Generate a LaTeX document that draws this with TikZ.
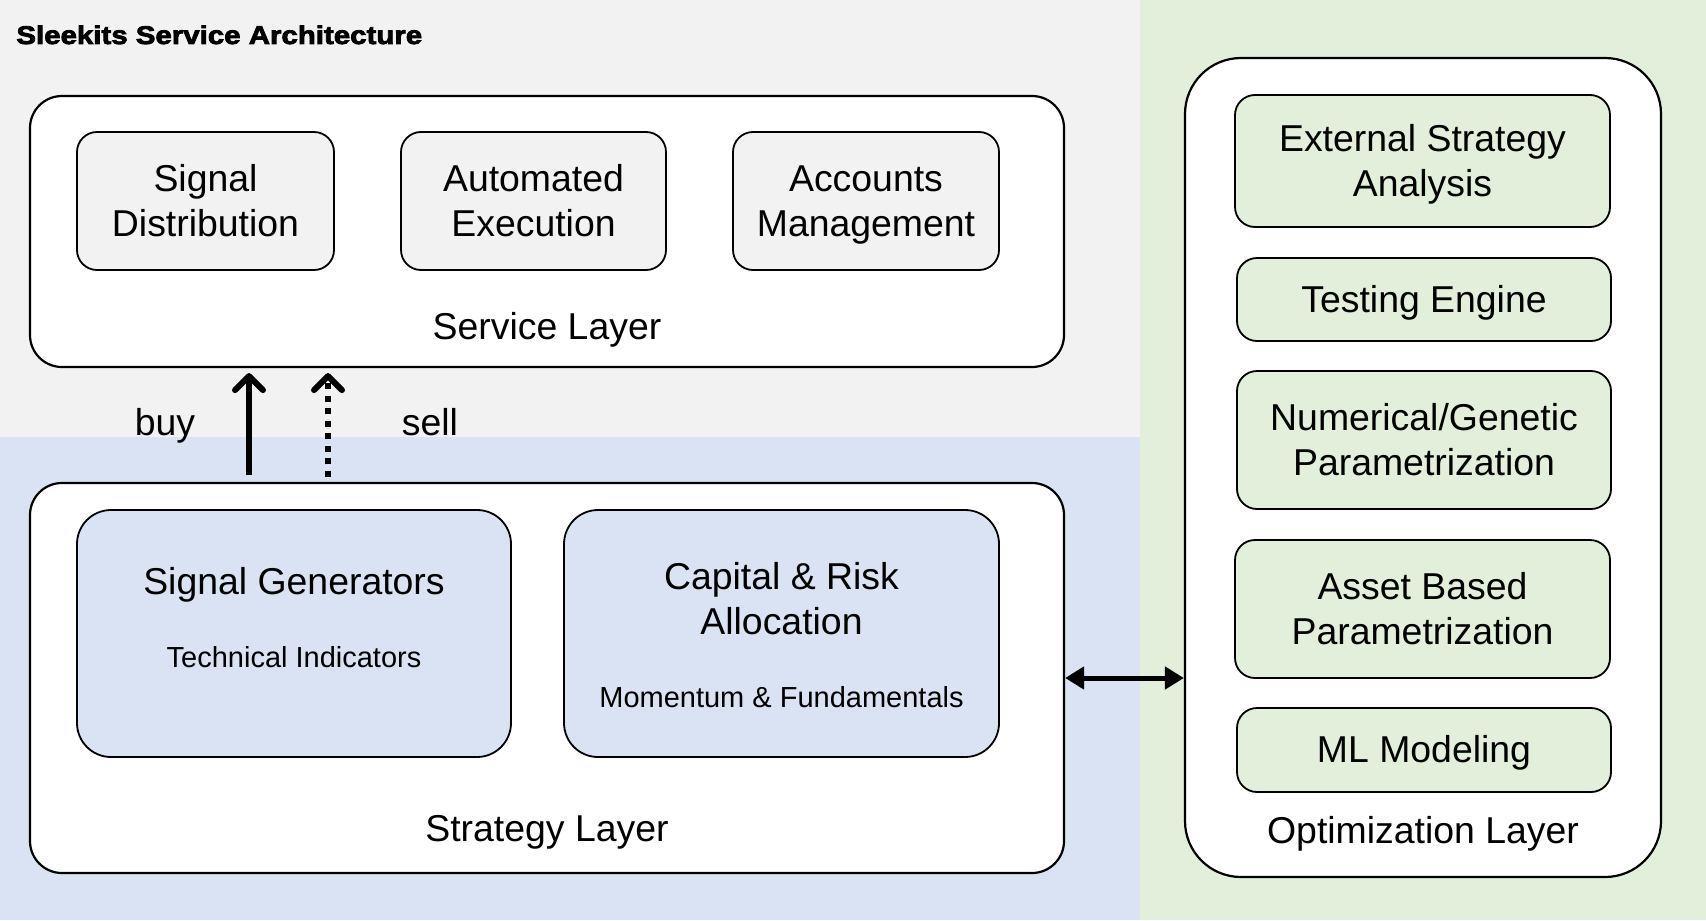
\documentclass[tikz,border=0pt]{standalone}
\usepackage{fontspec}
\setmainfont{Liberation Sans}
\newfontfamily\titlefont[FakeStretch=1.15,BoldFeatures={FakeBold=3}]{Liberation Sans}
\usetikzlibrary{arrows.meta}
\definecolor{bggray}{HTML}{F2F2F2}
\definecolor{bgblue}{HTML}{DAE3F3}
\definecolor{bggreen}{HTML}{E2EFDA}
\newcommand\ls{\rule[-0.212em]{0pt}{1.117em}}
\begin{document}
\begin{tikzpicture}[x=0.5pt,y=-0.5pt,
  layer/.style={draw, line width=1.1pt, fill=white, rounded corners=16pt, inner sep=0pt},
  optlayer/.style={layer, rounded corners=28pt},
  inbox/.style={draw, line width=0.9pt, rounded corners=10pt, align=center, inner sep=0pt,
    font=\fontsize{18.7pt}{22.5pt}\selectfont},
  svcbox/.style={inbox, fill=bggray},
  stratbox/.style={inbox, fill=bgblue, rounded corners=17pt},
  optbox/.style={inbox, fill=bggreen},
  maintext/.style={font=\fontsize{18.7pt}{22.5pt}\selectfont, align=center, inner sep=0pt},
  subtext/.style={font=\fontsize{14.5pt}{17pt}\selectfont, inner sep=0pt},
  buyarr/.style={line width=3pt, -{Straight Barb[length=7pt,width=14pt,line cap=round,round]}},
  sellarr/.style={buyarr, dash pattern=on 3pt off 3.25pt},
  dblarr/.style={line width=2.5pt, {Triangle[length=9.5pt,width=11pt]}-{Triangle[length=9.5pt,width=11pt]}}
]
\useasboundingbox (0,0) rectangle (1706,920);
\fill[bggray] (0,0) rectangle (1140,437);
\fill[bgblue] (0,437) rectangle (1140,920);
\fill[bggreen] (1140,0) rectangle (1706,920);

\node[anchor=base west, inner sep=0pt, font=\titlefont\bfseries\fontsize{12.8pt}{14pt}\selectfont] (title) at (16,44) {Sleekits Service Architecture};

% Service layer
\node[layer, minimum width=517pt, minimum height=135.5pt] (svc) at (547,231.5) {};
\node[svcbox, minimum width=128.5pt, minimum height=69pt] (sd) at (205.5,201) {\ls Signal\\\ls Distribution};
\node[svcbox, minimum width=132.5pt, minimum height=69pt] (ae) at (533.5,201) {\ls Automated\\\ls Execution};
\node[svcbox, minimum width=133pt, minimum height=69pt] (am) at (866,201) {\ls Accounts\\\ls Management};
\node[maintext] (svclbl) at (547,327) {\ls Service Layer};

% Strategy layer
\node[layer, minimum width=517pt, minimum height=195pt] (strat) at (547,678) {};
\node[stratbox, minimum width=217pt, minimum height=123.5pt] (sg) at (294,633.5) {};
\node[maintext] (sgt) at (294,582) {\ls Signal Generators};
\node[subtext] (sgs) at (294,657) {\ls Technical Indicators};
\node[stratbox, minimum width=217.5pt, minimum height=123.5pt] (cr) at (781.5,633.5) {};
\node[maintext] (crt) at (781.5,599.5) {\ls Capital \& Risk\\\ls Allocation};
\node[subtext] (crs) at (781.5,697) {\ls Momentum \& Fundamentals};
\node[maintext] (stratlbl) at (547,829) {\ls Strategy Layer};

% Optimization layer
\node[optlayer, minimum width=238pt, minimum height=409.5pt] (opt) at (1423,467.5) {};
\node[optbox, minimum width=187.5pt, minimum height=66pt] (esa) at (1422.5,161) {\ls External Strategy\\\ls Analysis};
\node[optbox, minimum width=187pt, minimum height=41.5pt] (te) at (1424,299.5) {\ls Testing Engine};
\node[optbox, minimum width=187pt, minimum height=69pt] (ngp) at (1424,440) {\ls Numerical/Genetic\\\ls Parametrization};
\node[optbox, minimum width=187.5pt, minimum height=69pt] (abp) at (1422.5,609) {\ls Asset Based\\\ls Parametrization};
\node[optbox, minimum width=187pt, minimum height=42pt] (ml) at (1424,750) {\ls ML Modeling};
\node[maintext] (optlbl) at (1423,831) {\ls Optimization Layer};

% buy / sell arrows
\coordinate (bx) at (249,0);
\coordinate (sx) at (328,0);
\draw[buyarr, shorten <=3.5pt, shorten >=2.5pt] (strat.north -| bx) -- (svc.south -| bx);
\draw[sellarr, shorten <=2.5pt, shorten >=2.5pt] (strat.north -| sx) -- (svc.south -| sx);
\node[maintext] (buy) at (165,423) {\ls buy};
\node[maintext] (sell) at (430,423) {\ls sell};

% strategy <-> optimization
\draw[dblarr] (strat.east) -- (strat.east -| opt.west);
\end{tikzpicture}
\end{document}
